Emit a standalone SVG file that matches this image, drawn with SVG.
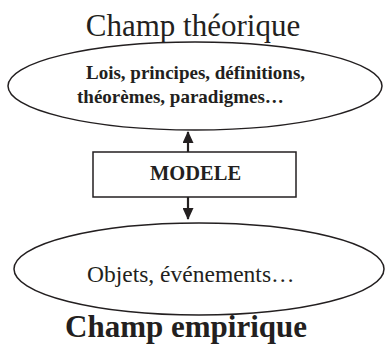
<svg xmlns="http://www.w3.org/2000/svg" width="385" height="347" viewBox="0 0 385 347">
<style>
.t{font-family:"Liberation Serif","DejaVu Serif",serif;fill:#231f20}
.m{text-anchor:middle}
.b{font-weight:bold}
.shape{fill:#fff;stroke:#231f20;stroke-width:1.5}
.c{stroke:#231f20;stroke-width:2.2;fill:none}
</style>
<defs>
<marker id="ah" viewBox="0 0 12 11" refX="11" refY="5.5" markerWidth="12" markerHeight="11" orient="auto" markerUnits="userSpaceOnUse">
<path d="M0,0 L12,5.5 L0,11 z" fill="#231f20"/>
</marker>
</defs>
<rect width="385" height="347" fill="#fff"/>
<g id="theorique">
<text class="t m" x="193" y="36" font-size="31">Champ théorique</text>
<ellipse class="shape" cx="195" cy="86" rx="187" ry="44"/>
<text class="t b" x="86" y="79" font-size="19">Lois, principes, définitions,</text>
<text class="t b" x="77" y="103" font-size="19">théorèmes, paradigmes…</text>
</g>
<g id="modele">
<rect class="shape" x="93" y="152" width="203" height="45"/>
<text class="t m b" x="195.5" y="180" font-size="20.5">MODELE</text>
</g>
<g id="empirique">
<ellipse class="shape" cx="199" cy="269" rx="185" ry="46"/>
<text class="t" x="87" y="282" font-size="23.5">Objets, événements…</text>
<text class="t m b" x="186" y="337" font-size="31">Champ empirique</text>
</g>
<g id="connectors">
<line class="c" x1="188" y1="152" x2="188" y2="132" marker-end="url(#ah)"/>
<line class="c" x1="188" y1="197" x2="188" y2="219" marker-end="url(#ah)"/>
</g>
</svg>
